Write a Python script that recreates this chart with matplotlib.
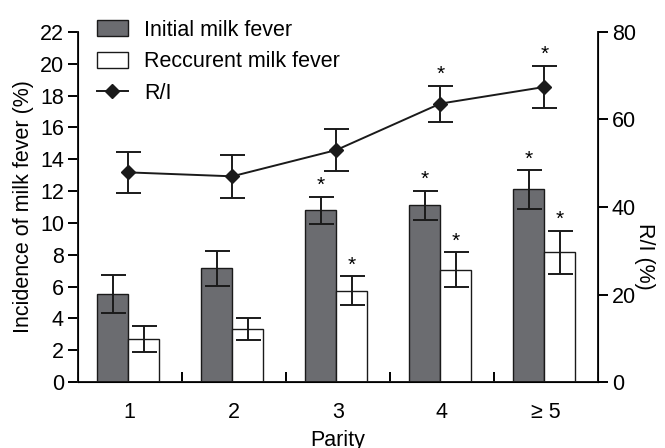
import numpy as np
import matplotlib.pyplot as plt
from matplotlib.lines import Line2D
from matplotlib.patches import Patch

parity = ['1', '2', '3', '4', '\u2265 5']
initial = [5.55, 7.15, 10.8, 11.1, 12.1]
initial_err = [1.2, 1.1, 0.85, 0.9, 1.2]
recurrent = [2.7, 3.35, 5.75, 7.05, 8.15]
recurrent_err = [0.82, 0.7, 0.9, 1.1, 1.37]
ri = [47.9, 47.0, 53.0, 63.6, 67.4]
ri_err = [4.65, 4.9, 4.7, 4.1, 4.8]
initial_sig = [False, False, True, True, True]
recurrent_sig = [False, False, True, True, True]
ri_sig = [False, False, False, True, True]

plt.rcParams['font.family'] = ['Liberation Sans', 'DejaVu Sans']

fig = plt.figure(figsize=(6.65, 4.48), dpi=100)
ax = fig.add_axes([0.117, 0.147, 0.782, 0.782])

x = np.arange(len(parity)) + 0.485
w = 0.30
dark = '#6b6c70'
err_kw = dict(ecolor='#1a1a1a', elinewidth=1.4, capsize=9, capthick=1.4)

ax.bar(x - w / 2, initial, w, color=dark, edgecolor='#1a1a1a', linewidth=1.0,
       yerr=initial_err, error_kw=err_kw, zorder=2)
ax.bar(x + w / 2, recurrent, w, color='white', edgecolor='#1a1a1a', linewidth=1.0,
       yerr=recurrent_err, error_kw=err_kw, zorder=2)

for i in range(len(parity)):
    if initial_sig[i]:
        ax.text(x[i] - w / 2, initial[i] + initial_err[i] + 0.12, '*',
                ha='center', va='bottom', fontsize=15)
    if recurrent_sig[i]:
        ax.text(x[i] + w / 2, recurrent[i] + recurrent_err[i] + 0.12, '*',
                ha='center', va='bottom', fontsize=15)

ax.set_xlim(0, len(parity))
ax.set_ylim(0, 22)
ax.set_yticks(np.arange(0, 23, 2))
ax.set_xticks(np.arange(0, len(parity) + 1))
ax.set_xticklabels([])
ax.set_xticks(np.arange(len(parity)) + 0.5, minor=True)
ax.set_xticklabels(parity, minor=True)
ax.tick_params(axis='x', which='minor', length=0, pad=14, labelsize=15.5)
ax.tick_params(axis='x', which='major', length=7, width=1.4, direction='in')
ax.tick_params(axis='y', length=7, width=1.4, labelsize=15.5, pad=3)
ax.spines['top'].set_visible(False)
for s in ['left', 'right', 'bottom']:
    ax.spines[s].set_linewidth(1.4)
    ax.spines[s].set_color('#1a1a1a')
ax.set_ylabel('Incidence of milk fever (%)', fontsize=15.5, labelpad=4)
ax.set_xlabel('Parity', fontsize=15.5, labelpad=5)

ax2 = ax.twinx()
ax2.set_ylim(0, 80)
ax2.set_yticks([0, 20, 40, 60, 80])
ax2.tick_params(axis='y', length=7, width=1.4, labelsize=15.5, pad=3)
ax2.spines['top'].set_visible(False)
ax2.errorbar(x, ri, yerr=ri_err, color='#1a1a1a', marker='D', markersize=7,
             linewidth=1.4, elinewidth=1.4, capsize=9, capthick=1.4, zorder=3)
for i in range(len(parity)):
    if ri_sig[i]:
        ax2.text(x[i], ri[i] + ri_err[i] + 0.4, '*', ha='center', va='bottom', fontsize=15)
ax2.set_ylabel('R/I (%)', fontsize=15.5, rotation=270, labelpad=16)
ax2.yaxis.set_label_coords(1.11, 0.36)

handles = [Patch(facecolor=dark, edgecolor='#1a1a1a'),
           Patch(facecolor='white', edgecolor='#1a1a1a'),
           Line2D([], [], color='#1a1a1a', marker='D', markersize=7, linewidth=1.4)]
labels = ['Initial milk fever', 'Reccurent milk fever', 'R/I']
fig.legend(handles, labels, loc='upper left', bbox_to_anchor=(0.126, 0.985),
           frameon=False, fontsize=15.5, handlelength=1.45, handleheight=0.8,
           handletextpad=0.75, labelspacing=0.5, borderpad=0.1)

fig.savefig('out.png', dpi=100)
